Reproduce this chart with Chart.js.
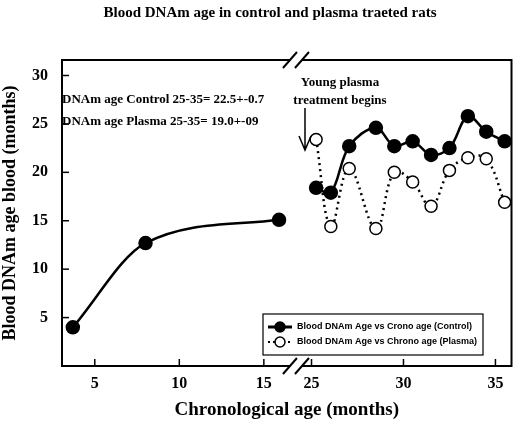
<!DOCTYPE html><html><head><script src="https://cdn.jsdelivr.net/npm/chart.js@4"></script>
<style>body{margin:0;background:#fff}</style></head><body>
<canvas id="c" width="520" height="421" style="display:block"></canvas>
<script>
const xTicks=[5,10,15,25,30,35];
const yTicks=[5,10,15,20,25,30];
const ctrlEarlyX=[3.7,8,15.9];
const ctrlEarlyY=[4.0,12.7,15.1];
const lateX=[25.25,26.05,27.05,28.5,29.5,30.5,31.5,32.5,33.5,34.5,35.5];
const ctrlLateY=[18.4,17.9,22.7,24.6,22.7,23.2,21.8,22.5,25.8,24.2,23.2];
const plasmaY=[23.4,14.4,20.4,14.2,20.0,19.0,16.5,20.2,21.5,21.4,16.9];
const legendLabels=['Blood DNAm Age vs Crono age (Control)','Blood DNAm Age vs Chrono age (Plasma)'];
const notes=['DNAm age Control 25-35= 22.5+-0.7','DNAm age Plasma 25-35= 19.0+-09'];
const tx=v=>v<20?v:17.82+(v-25)*1.088;
const pts=(xs,ys)=>xs.map((x,i)=>({x:tx(x),y:ys[i]}));
const serif='"Liberation Serif","DejaVu Serif",serif';
const deco={id:'deco',afterDraw(c){const g=c.ctx,a=c.chartArea,X=c.scales.x,Y=c.scales.y;g.save();
g.strokeStyle='#000';g.lineWidth=2;g.strokeRect(a.left,a.top,a.right-a.left,a.bottom-a.top);
g.lineWidth=1.5;xTicks.forEach(t=>{const p=X.getPixelForValue(tx(t));g.beginPath();g.moveTo(p,a.bottom);g.lineTo(p,a.bottom-7);g.stroke();});
yTicks.forEach(t=>{const p=Y.getPixelForValue(t);g.beginPath();g.moveTo(a.left,p);g.lineTo(a.left+7,p);g.stroke();});
const bx=X.getPixelForValue(16.9);[a.bottom,a.top].forEach(by=>{g.fillStyle='#fff';g.fillRect(bx-6,by-3,12,6);g.lineWidth=2;[-6,6].forEach(o=>{g.beginPath();g.moveTo(bx+o-7,by+8);g.lineTo(bx+o+7,by-8);g.stroke();});});
g.fillStyle='#000';g.font='bold 15px '+serif;g.textAlign='center';g.textBaseline='middle';
g.fillText('Blood DNAm age in control and plasma traeted rats',270,13);
g.font='bold 13px '+serif;g.textAlign='left';g.fillText(notes[0],62,100);g.fillText(notes[1],62,122);
g.textAlign='center';g.fillText('Young plasma',340,83);g.fillText('treatment begins',340,101);
g.lineWidth=1.5;g.beginPath();g.moveTo(305,108);g.lineTo(305,150);g.moveTo(299,136);g.lineTo(305,150);g.lineTo(311,136);g.stroke();
g.lineWidth=1.2;g.fillStyle='#fff';g.fillRect(263,314,220,41);g.strokeRect(263,314,220,41);g.font='bold 9px "Liberation Sans",Arial,sans-serif';g.textAlign='left';
[0,1].forEach(i=>{const y=327+i*15;g.setLineDash(i?[2,3]:[]);g.lineWidth=i?2:3;g.beginPath();g.moveTo(268,y);g.lineTo(292,y);g.stroke();g.setLineDash([]);
g.beginPath();g.arc(280,y,5,0,7);g.fillStyle=i?'#fff':'#000';g.fill();g.lineWidth=1.5;g.stroke();g.fillStyle='#000';g.fillText(legendLabels[i],297,y);});
g.restore();}};
new Chart(document.getElementById('c'),{type:'scatter',data:{datasets:[
{data:pts(ctrlEarlyX,ctrlEarlyY),showLine:true,borderColor:'#000',borderWidth:2.5,pointRadius:6,pointBackgroundColor:'#000',pointBorderColor:'#000',cubicInterpolationMode:'monotone'},
{data:pts(lateX,ctrlLateY),showLine:true,tension:0.35,borderColor:'#000',borderWidth:2.5,pointRadius:6,pointBackgroundColor:'#000',pointBorderColor:'#000'},
{data:pts(lateX,plasmaY),showLine:true,tension:0.4,borderColor:'#000',borderWidth:2.5,borderDash:[2,4],pointRadius:6,pointBackgroundColor:'#fff',pointBorderColor:'#000',pointBorderWidth:1.5}
]},options:{responsive:false,animation:false,devicePixelRatio:1,layout:{padding:{top:60,right:6}},
plugins:{legend:{display:false},tooltip:{enabled:false}},
scales:{x:{type:'linear',min:3.06,max:29.65,grid:{display:false},border:{display:false},
afterBuildTicks:s=>{s.ticks=xTicks.map(v=>({value:tx(v)}));},
ticks:{color:'#000',font:{family:serif,weight:'bold',size:16},padding:0,callback:(v,i)=>String(xTicks[i])},
title:{display:true,text:'Chronological age (months)',color:'#000',font:{family:serif,weight:'bold',size:19},padding:0},
afterFit:s=>{s.height=55;}},
y:{min:0,max:31.6,grid:{display:false},border:{display:false},afterBuildTicks:s=>{s.ticks=yTicks.map(v=>({value:v}));},
ticks:{color:'#000',font:{family:serif,weight:'bold',size:16},padding:6},
title:{display:true,text:'Blood DNAm age blood (months)',color:'#000',font:{family:serif,weight:'bold',size:18},padding:0},
afterFit:s=>{s.width=62;}}}},plugins:[deco]});
</script></body></html>
